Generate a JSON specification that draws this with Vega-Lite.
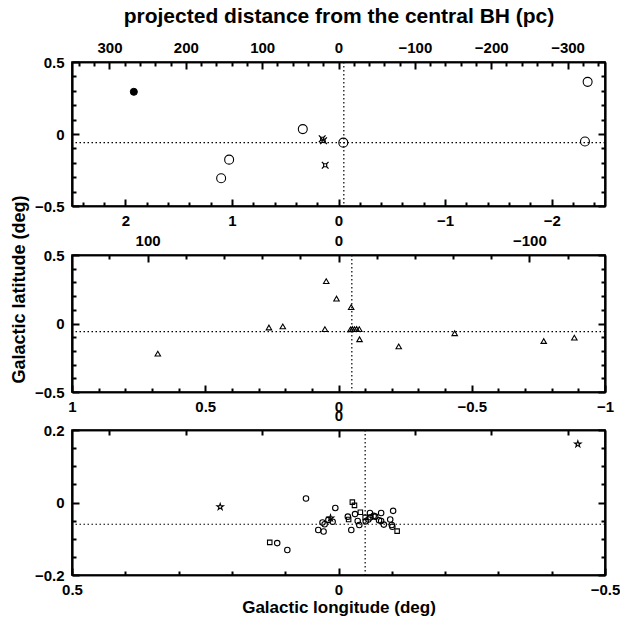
{
 "$schema": "https://vega.github.io/schema/vega-lite/v6.json",
 "padding": {"left": 9, "top": 4, "right": 0, "bottom": 0},
 "background": "white",
 "datasets": {
  "sgr": [{"l": -0.05, "b": -0.06}],
  "p1": [
   {"l": 1.92, "b": 0.293, "sym": "dot"},
   {"l": 0.335, "b": 0.034, "sym": "o"},
   {"l": -0.045, "b": -0.06, "sym": "o"},
   {"l": 1.026, "b": -0.178, "sym": "o"},
   {"l": 1.101, "b": -0.307, "sym": "o"},
   {"l": -2.337, "b": 0.362, "sym": "o"},
   {"l": -2.312, "b": -0.052, "sym": "o"},
   {"l": 0.153, "b": -0.033, "sym": "x"},
   {"l": 0.14, "b": -0.047, "sym": "x"},
   {"l": 0.125, "b": -0.217, "sym": "x"}
  ],
  "p2": [
   {"l": 0.678, "b": -0.22, "sym": "tri"}, {"l": 0.261, "b": -0.029, "sym": "tri"}, {"l": 0.209, "b": -0.021, "sym": "tri"},
   {"l": 0.046, "b": 0.309, "sym": "tri"}, {"l": 0.0075, "b": 0.182, "sym": "tri"}, {"l": 0.051, "b": -0.041, "sym": "tri"},
   {"l": -0.0475, "b": 0.12, "sym": "tri"}, {"l": -0.045, "b": -0.043, "sym": "tri"}, {"l": -0.052, "b": -0.04, "sym": "tri"},
   {"l": -0.06, "b": -0.041, "sym": "tri"}, {"l": -0.068, "b": -0.04, "sym": "tri"}, {"l": -0.078, "b": -0.041, "sym": "tri"},
   {"l": -0.079, "b": -0.115, "sym": "tri"}, {"l": -0.226, "b": -0.167, "sym": "tri"}, {"l": -0.436, "b": -0.071, "sym": "tri"},
   {"l": -0.77, "b": -0.128, "sym": "tri"}, {"l": -0.885, "b": -0.103, "sym": "tri"}
  ],
  "p3": [
   {"l": 0.222, "b": -0.012, "sym": "star"},
   {"l": 0.061, "b": 0.011, "sym": "c"},
   {"l": 0.006, "b": -0.015, "sym": "c"},
   {"l": 0.129, "b": -0.11, "sym": "sq"},
   {"l": 0.115, "b": -0.112, "sym": "c"},
   {"l": 0.096, "b": -0.131, "sym": "c"},
   {"l": 0.038, "b": -0.076, "sym": "c"},
   {"l": 0.028, "b": -0.08, "sym": "c"},
   {"l": 0.03, "b": -0.055, "sym": "c"},
   {"l": 0.026, "b": -0.06, "sym": "c"},
   {"l": 0.019, "b": -0.048, "sym": "c"},
   {"l": 0.015, "b": -0.043, "sym": "star"},
   {"l": 0.011, "b": -0.053, "sym": "c"},
   {"l": -0.0175, "b": -0.039, "sym": "c"},
   {"l": -0.019, "b": -0.047, "sym": "sq"},
   {"l": -0.026, "b": 0.001, "sym": "sq"},
   {"l": -0.03, "b": -0.008, "sym": "sq"},
   {"l": -0.024, "b": -0.076, "sym": "c"},
   {"l": -0.031, "b": -0.032, "sym": "c"},
   {"l": -0.036, "b": -0.051, "sym": "c"},
   {"l": -0.039, "b": -0.062, "sym": "c"},
   {"l": -0.041, "b": -0.027, "sym": "sq"},
   {"l": -0.05, "b": -0.041, "sym": "sq"},
   {"l": -0.051, "b": -0.052, "sym": "c"},
   {"l": -0.056, "b": -0.047, "sym": "c"},
   {"l": -0.059, "b": -0.029, "sym": "c"},
   {"l": -0.06, "b": -0.041, "sym": "c"},
   {"l": -0.066, "b": -0.037, "sym": "c"},
   {"l": -0.069, "b": -0.039, "sym": "c"},
   {"l": -0.076, "b": -0.049, "sym": "c"},
   {"l": -0.08, "b": -0.029, "sym": "c"},
   {"l": -0.08, "b": -0.051, "sym": "c"},
   {"l": -0.085, "b": -0.061, "sym": "c"},
   {"l": -0.097, "b": -0.047, "sym": "c"},
   {"l": -0.1, "b": -0.062, "sym": "c"},
   {"l": -0.101, "b": -0.067, "sym": "c"},
   {"l": -0.1025, "b": -0.023, "sym": "c"},
   {"l": -0.11, "b": -0.079, "sym": "sq"},
   {"l": -0.449, "b": 0.161, "sym": "star"}
  ]
 },
 "bounds": "flush",
 "spacing": 49,
 "vconcat": [
  {
   "width": 533, "height": 144,
   "resolve": {"scale": {"x": "independent"}, "axis": {"x": "independent", "y": "independent"}},
   "layer": [
    {"data": {"name": "sgr"}, "mark": {"type": "rule", "color": "black", "strokeWidth": 1.2, "strokeDash": [1.5, 2.5]},
     "encoding": {"x": {"field": "l", "type": "quantitative", "scale": {"domain": [-2.5, 2.5], "reverse": true, "nice": false, "zero": false}, "axis": null}}},
    {"data": {"name": "sgr"}, "mark": {"type": "rule", "color": "black", "strokeWidth": 1.2, "strokeDash": [1.5, 2.5]},
     "encoding": {"y": {"field": "b", "type": "quantitative", "scale": {"domain": [-0.5, 0.5], "nice": false, "zero": false}, "axis": null}}},
    {"data": {"name": "sgr"}, "mark": {"type": "point", "opacity": 0},
     "encoding": {
      "x": {"datum": 0, "type": "quantitative", "scale": {"domain": [-349.07, 349.07], "reverse": true, "nice": false, "zero": false},
       "axis": {"orient": "top", "values": [-300,-200,-100,0,100,200,300], "tickSize": -7, "tickColor": "black", "tickWidth": 2, "format": "~r", "labelPadding": 14,
        "title": "projected distance from the central BH (pc)", "titlePadding": 14, "titleFontSize": 21}},
      "y": {"datum": 0, "type": "quantitative", "scale": {"domain": [-0.5, 0.5], "nice": false, "zero": false},
       "axis": {"orient": "right", "values": [-0.5,0,0.5], "labels": false, "title": null, "tickSize": -7, "tickColor": "black", "tickWidth": 2}}
     }},
    {"data": {"name": "sgr"}, "mark": {"type": "point", "opacity": 0},
     "encoding": {
      "x": {"datum": 0, "type": "quantitative", "scale": {"domain": [-349.07, 349.07], "reverse": true, "nice": false, "zero": false},
       "axis": {"orient": "top", "values": [-340,-320,-280,-260,-240,-220,-180,-160,-140,-120,-80,-60,-40,-20,20,40,60,80,120,140,160,180,220,240,260,280,320,340], "tickSize": -4, "tickColor": "black", "tickWidth": 2, "labels": false, "title": null}},
      "y": {"datum": 0, "type": "quantitative", "scale": {"domain": [-0.5, 0.5], "nice": false, "zero": false},
       "axis": {"orient": "right", "values": [-0.4,-0.3,-0.2,-0.1,0.1,0.2,0.3,0.4], "labels": false, "title": null, "tickSize": -4, "tickColor": "black", "tickWidth": 2}}
     }},
    {"data": {"name": "sgr"}, "mark": {"type": "point", "opacity": 0},
     "encoding": {
      "x": {"datum": 0, "type": "quantitative", "scale": {"domain": [-2.5, 2.5], "reverse": true, "nice": false, "zero": false},
       "axis": {"orient": "bottom", "values": [-2.4,-2.2,-1.8,-1.6,-1.4,-1.2,-0.8,-0.6,-0.4,-0.2,0.2,0.4,0.6,0.8,1.2,1.4,1.6,1.8,2.2,2.4], "tickSize": -4, "tickColor": "black", "tickWidth": 2, "labels": false, "title": null}},
      "y": {"datum": 0, "type": "quantitative", "scale": {"domain": [-0.5, 0.5], "nice": false, "zero": false},
       "axis": {"orient": "left", "values": [-0.4,-0.3,-0.2,-0.1,0.1,0.2,0.3,0.4], "labels": false, "title": null, "tickSize": -4, "tickColor": "black", "tickWidth": 2}}
     }},
    {"data": {"name": "p1"}, "transform": [{"filter": "datum.sym == 'o'"}],
     "mark": {"type": "point", "shape": "circle", "size": 80, "stroke": "black", "strokeWidth": 1.1, "fill": "transparent", "opacity": 1},
     "encoding": {
      "x": {"field": "l", "type": "quantitative", "scale": {"domain": [-2.5, 2.5], "reverse": true, "nice": false, "zero": false},
       "axis": {"orient": "bottom", "values": [-2,-1,0,1,2], "tickSize": -7, "tickColor": "black", "tickWidth": 2, "format": "~r", "labelPadding": 14, "title": null}},
      "y": {"field": "b", "type": "quantitative", "scale": {"domain": [-0.5, 0.5], "nice": false, "zero": false},
       "axis": {"orient": "left", "values": [-0.5,0,0.5], "tickSize": -7, "tickColor": "black", "tickWidth": 2, "format": "~r", "labelPadding": 15, "title": null}}
     }},
    {"data": {"name": "p1"}, "transform": [{"filter": "datum.sym == 'dot'"}],
     "mark": {"type": "point", "shape": "circle", "size": 50, "stroke": "black", "strokeWidth": 1, "fill": "black", "opacity": 1},
     "encoding": {
      "x": {"field": "l", "type": "quantitative", "scale": {"domain": [-2.5, 2.5], "reverse": true, "nice": false, "zero": false}, "axis": null},
      "y": {"field": "b", "type": "quantitative", "scale": {"domain": [-0.5, 0.5], "nice": false, "zero": false}, "axis": null}
     }},
    {"data": {"name": "p1"}, "transform": [{"filter": "datum.sym == 'x'"}],
     "mark": {"type": "point", "shape": "M-0.45,-0.45H0.45V0.45H-0.45Z M-1,-1L-0.45,-0.45 M1,-1L0.45,-0.45 M1,1L0.45,0.45 M-1,1L-0.45,0.45", "size": 45, "stroke": "black", "strokeWidth": 1.2, "fill": "transparent", "opacity": 1},
     "encoding": {
      "x": {"field": "l", "type": "quantitative", "scale": {"domain": [-2.5, 2.5], "reverse": true, "nice": false, "zero": false}, "axis": null},
      "y": {"field": "b", "type": "quantitative", "scale": {"domain": [-0.5, 0.5], "nice": false, "zero": false}, "axis": null}
     }}
   ]
  },
  {
   "bounds": "flush",
   "spacing": 38,
   "vconcat": [
    {
     "width": 533, "height": 137,
     "resolve": {"scale": {"x": "independent"}, "axis": {"x": "independent", "y": "independent"}},
     "layer": [
      {"data": {"name": "sgr"}, "mark": {"type": "rule", "color": "black", "strokeWidth": 1.2, "strokeDash": [1.5, 2.5]},
       "encoding": {"x": {"field": "l", "type": "quantitative", "scale": {"domain": [-1, 1], "reverse": true, "nice": false, "zero": false}, "axis": null}}},
      {"data": {"name": "sgr"}, "mark": {"type": "rule", "color": "black", "strokeWidth": 1.2, "strokeDash": [1.5, 2.5]},
       "encoding": {"y": {"field": "b", "type": "quantitative", "scale": {"domain": [-0.5, 0.5], "nice": false, "zero": false}, "axis": null}}},
      {"data": {"name": "sgr"}, "mark": {"type": "point", "opacity": 0},
       "encoding": {
        "x": {"datum": 0, "type": "quantitative", "scale": {"domain": [-139.626, 139.626], "reverse": true, "nice": false, "zero": false},
         "axis": {"orient": "top", "values": [-100,0,100], "tickSize": -7, "tickColor": "black", "tickWidth": 2, "format": "~r", "labelPadding": 14, "title": null}},
        "y": {"datum": 0, "type": "quantitative", "scale": {"domain": [-0.5, 0.5], "nice": false, "zero": false},
         "axis": {"orient": "right", "values": [-0.5,0,0.5], "labels": false, "title": null, "tickSize": -7, "tickColor": "black", "tickWidth": 2}}
       }},
      {"data": {"name": "sgr"}, "mark": {"type": "point", "opacity": 0},
       "encoding": {
        "x": {"datum": 0, "type": "quantitative", "scale": {"domain": [-139.626, 139.626], "reverse": true, "nice": false, "zero": false},
         "axis": {"orient": "top", "values": [-120,-80,-60,-40,-20,20,40,60,80,120], "tickSize": -4, "tickColor": "black", "tickWidth": 2, "labels": false, "title": null}},
        "y": {"datum": 0, "type": "quantitative", "scale": {"domain": [-0.5, 0.5], "nice": false, "zero": false},
         "axis": {"orient": "right", "values": [-0.4,-0.3,-0.2,-0.1,0.1,0.2,0.3,0.4], "labels": false, "title": null, "tickSize": -4, "tickColor": "black", "tickWidth": 2}}
       }},
      {"data": {"name": "sgr"}, "mark": {"type": "point", "opacity": 0},
       "encoding": {
        "x": {"datum": 0, "type": "quantitative", "scale": {"domain": [-1, 1], "reverse": true, "nice": false, "zero": false},
         "axis": {"orient": "bottom", "values": [-0.9,-0.8,-0.7,-0.6,-0.4,-0.3,-0.2,-0.1,0.1,0.2,0.3,0.4,0.6,0.7,0.8,0.9], "tickSize": -4, "tickColor": "black", "tickWidth": 2, "labels": false, "title": null}},
        "y": {"datum": 0, "type": "quantitative", "scale": {"domain": [-0.5, 0.5], "nice": false, "zero": false},
         "axis": {"orient": "left", "values": [-0.4,-0.3,-0.2,-0.1,0.1,0.2,0.3,0.4], "labels": false, "title": null, "tickSize": -4, "tickColor": "black", "tickWidth": 2}}
       }},
      {"data": {"name": "p2"},
       "mark": {"type": "point", "shape": "triangle-up", "size": 30, "stroke": "black", "strokeWidth": 1.1, "fill": "transparent", "opacity": 1},
       "encoding": {
        "x": {"field": "l", "type": "quantitative", "scale": {"domain": [-1, 1], "reverse": true, "nice": false, "zero": false},
         "axis": {"orient": "bottom", "values": [-1,-0.5,0,0.5,1], "tickSize": -7, "tickColor": "black", "tickWidth": 2, "format": "~r", "labelPadding": 14, "title": null}},
        "y": {"field": "b", "type": "quantitative", "scale": {"domain": [-0.5, 0.5], "nice": false, "zero": false},
         "axis": {"orient": "left", "values": [-0.5,0,0.5], "tickSize": -7, "tickColor": "black", "tickWidth": 2, "format": "~r", "labelPadding": 15,
          "title": "Galactic latitude (deg)", "titleFontSize": 18, "titleX": -53, "titleY": 34, "titleAngle": 270, "titleBaseline": "middle", "titleAlign": "center"}}
       }}
     ]
    },
    {
     "width": 533, "height": 145,
     "resolve": {"scale": {"x": "independent"}, "axis": {"x": "independent", "y": "independent"}},
     "layer": [
      {"data": {"name": "sgr"}, "mark": {"type": "rule", "color": "black", "strokeWidth": 1.2, "strokeDash": [1.5, 2.5]},
       "encoding": {"x": {"field": "l", "type": "quantitative", "scale": {"domain": [-0.5, 0.5], "reverse": true, "nice": false, "zero": false}, "axis": null}}},
      {"data": {"name": "sgr"}, "mark": {"type": "rule", "color": "black", "strokeWidth": 1.2, "strokeDash": [1.5, 2.5]},
       "encoding": {"y": {"field": "b", "type": "quantitative", "scale": {"domain": [-0.2, 0.2], "nice": false, "zero": false}, "axis": null}}},
      {"data": {"name": "sgr"}, "mark": {"type": "point", "opacity": 0},
       "encoding": {
        "x": {"datum": 0, "type": "quantitative", "scale": {"domain": [-69.813, 69.813], "reverse": true, "nice": false, "zero": false},
         "axis": {"orient": "top", "values": [0], "tickSize": -7, "tickColor": "black", "tickWidth": 2, "format": "~r", "labelPadding": 14, "title": null}},
        "y": {"datum": 0, "type": "quantitative", "scale": {"domain": [-0.2, 0.2], "nice": false, "zero": false},
         "axis": {"orient": "right", "values": [-0.2,0,0.2], "labels": false, "title": null, "tickSize": -7, "tickColor": "black", "tickWidth": 2}}
       }},
      {"data": {"name": "sgr"}, "mark": {"type": "point", "opacity": 0},
       "encoding": {
        "x": {"datum": 0, "type": "quantitative", "scale": {"domain": [-69.813, 69.813], "reverse": true, "nice": false, "zero": false},
         "axis": {"orient": "top", "values": [-60,-40,-20,20,40,60], "tickSize": -5, "tickColor": "black", "tickWidth": 2, "labels": false, "title": null}},
        "y": {"datum": 0, "type": "quantitative", "scale": {"domain": [-0.2, 0.2], "nice": false, "zero": false},
         "axis": {"orient": "right", "values": [-0.15,-0.1,-0.05,0.05,0.1,0.15], "labels": false, "title": null, "tickSize": -4, "tickColor": "black", "tickWidth": 2}}
       }},
      {"data": {"name": "sgr"}, "mark": {"type": "point", "opacity": 0},
       "encoding": {
        "x": {"datum": 0, "type": "quantitative", "scale": {"domain": [-0.5, 0.5], "reverse": true, "nice": false, "zero": false},
         "axis": {"orient": "bottom", "values": [-0.4,-0.3,-0.2,-0.1,0.1,0.2,0.3,0.4], "tickSize": -4, "tickColor": "black", "tickWidth": 2, "labels": false, "title": null}},
        "y": {"datum": 0, "type": "quantitative", "scale": {"domain": [-0.2, 0.2], "nice": false, "zero": false},
         "axis": {"orient": "left", "values": [-0.15,-0.1,-0.05,0.05,0.1,0.15], "labels": false, "title": null, "tickSize": -4, "tickColor": "black", "tickWidth": 2}}
       }},
      {"data": {"name": "p3"}, "transform": [{"filter": "datum.sym == 'c'"}],
       "mark": {"type": "point", "shape": "circle", "size": 30, "stroke": "black", "strokeWidth": 1.1, "fill": "transparent", "opacity": 1},
       "encoding": {
        "x": {"field": "l", "type": "quantitative", "scale": {"domain": [-0.5, 0.5], "reverse": true, "nice": false, "zero": false},
         "axis": {"orient": "bottom", "values": [-0.5,0,0.5], "tickSize": -7, "tickColor": "black", "tickWidth": 2, "format": "~r", "labelPadding": 14,
          "title": "Galactic longitude (deg)", "titleFontSize": 17, "titlePadding": 2}},
        "y": {"field": "b", "type": "quantitative", "scale": {"domain": [-0.2, 0.2], "nice": false, "zero": false},
         "axis": {"orient": "left", "values": [-0.2,0,0.2], "tickSize": -7, "tickColor": "black", "tickWidth": 2, "format": "~r", "labelPadding": 15, "title": null}}
       }},
      {"data": {"name": "p3"}, "transform": [{"filter": "datum.sym == 'sq'"}],
       "mark": {"type": "point", "shape": "square", "size": 20, "stroke": "black", "strokeWidth": 1.1, "fill": "transparent", "opacity": 1},
       "encoding": {
        "x": {"field": "l", "type": "quantitative", "scale": {"domain": [-0.5, 0.5], "reverse": true, "nice": false, "zero": false}, "axis": null},
        "y": {"field": "b", "type": "quantitative", "scale": {"domain": [-0.2, 0.2], "nice": false, "zero": false}, "axis": null}
       }},
      {"data": {"name": "p3"}, "transform": [{"filter": "datum.sym == 'star'"}],
       "mark": {"type": "point", "shape": "M0,-1L0.2245,-0.309L0.951,-0.309L0.363,0.118L0.588,0.809L0,0.382L-0.588,0.809L-0.363,0.118L-0.951,-0.309L-0.2245,-0.309Z", "size": 45, "stroke": "black", "strokeWidth": 1.1, "fill": "transparent", "opacity": 1},
       "encoding": {
        "x": {"field": "l", "type": "quantitative", "scale": {"domain": [-0.5, 0.5], "reverse": true, "nice": false, "zero": false}, "axis": null},
        "y": {"field": "b", "type": "quantitative", "scale": {"domain": [-0.2, 0.2], "nice": false, "zero": false}, "axis": null}
       }}
     ]
    }
   ]
  }
 ],
 "config": {
  "view": {"stroke": "black", "strokeWidth": 1.7},
  "axis": {
   "domainColor": "black", "domainWidth": 1.7,
   "labelFont": "Liberation Sans", "labelFontWeight": "bold", "labelFontSize": 15, "labelColor": "black",
   "labelFlush": false, "labelOverlap": false, "labelBound": false,
   "titleFont": "Liberation Sans", "titleFontWeight": "bold", "titleFontSize": 16, "titleColor": "black"
  }
 }
}
